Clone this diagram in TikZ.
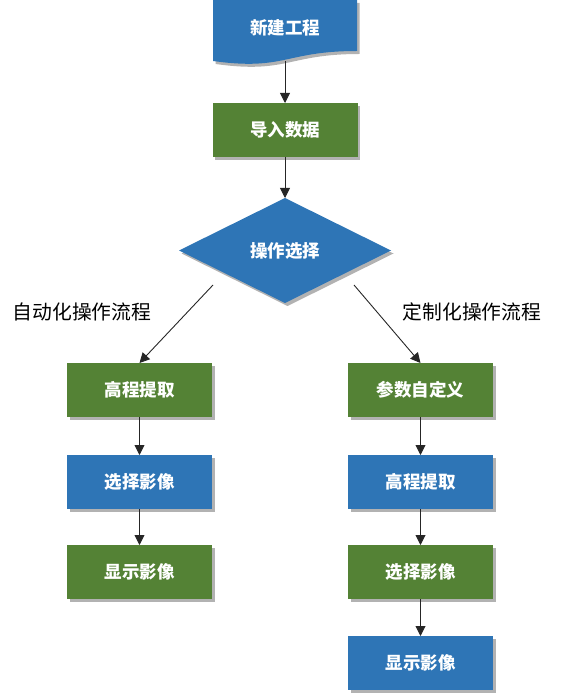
\documentclass[tikz,border=0pt]{standalone}
\usepackage{fontspec}
\setmainfont{Noto Sans CJK SC}
\usetikzlibrary{shapes.geometric,arrows.meta,shadows}
\definecolor{boxblue}{HTML}{2E75B6}
\definecolor{boxgreen}{HTML}{548235}
\begin{document}
\begin{tikzpicture}[x=1pt,y=-1pt,
 shad/.style={drop shadow={shadow xshift=2.5pt,shadow yshift=-3pt,opacity=0.3,fill=black}},
 procbox/.style={rectangle,minimum width=145pt,minimum height=54pt,inner sep=0pt,outer sep=0pt,text=white,font=\bfseries\fontsize{17.5}{20}\selectfont,shad},
 bluebox/.style={procbox,fill=boxblue},
 greenbox/.style={procbox,fill=boxgreen},
 decision/.style={diamond,aspect=2,minimum width=212pt,minimum height=105pt,inner sep=0pt,outer sep=0pt,fill=boxblue,text=white,font=\bfseries\fontsize{17.5}{20}\selectfont,shad},
 conn/.style={draw=black!85,line width=0.9pt,-{Triangle[length=10pt,width=10pt]}},
 lbl/.style={font=\fontsize{19.8}{22}\selectfont,inner sep=0pt}]
\useasboundingbox (0,0) rectangle (577,700);
% document shape
\fill[boxblue,shad] (213,0) -- (357,0) -- (357,51) .. controls (285,51) and (285,71) .. (213,61) -- cycle;
\node[text=white,font=\bfseries\fontsize{17.5}{20}\selectfont,inner sep=0pt] (doc) at (285,28) {新建工程};
\coordinate (docb) at (285,61);
\node[greenbox] (imp) at (285,130) {导入数据};
\node[decision] (dia) at (285,250.5) {操作选择};
% left column
\node[greenbox] (l1) at (139.5,390) {高程提取};
\node[bluebox] (l2) at (139.5,482) {选择影像};
\node[greenbox] (l3) at (139.5,572) {显示影像};
% right column
\node[greenbox] (r1) at (420.5,390) {参数自定义};
\node[bluebox] (r2) at (420.5,482) {高程提取};
\node[greenbox] (r3) at (420.5,572) {选择影像};
\node[bluebox] (r4) at (420.5,663) {显示影像};
% labels
\node[lbl] (lblL) at (82,312) {自动化操作流程};
\node[lbl] (lblR) at (472,312) {定制化操作流程};
% connectors
\coordinate (dl) at (213,285);
\coordinate (dr) at (354,285);
\draw[conn] (docb) -- (imp.north);
\draw[conn] (imp.south) -- (dia.north);
\draw[conn] (dl) -- (l1.north);
\draw[conn] (dr) -- (r1.north);
\draw[conn] (l1.south) -- (l2.north);
\draw[conn] (l2.south) -- (l3.north);
\draw[conn] (r1.south) -- (r2.north);
\draw[conn] (r2.south) -- (r3.north);
\draw[conn] (r3.south) -- (r4.north);
\end{tikzpicture}
\end{document}
